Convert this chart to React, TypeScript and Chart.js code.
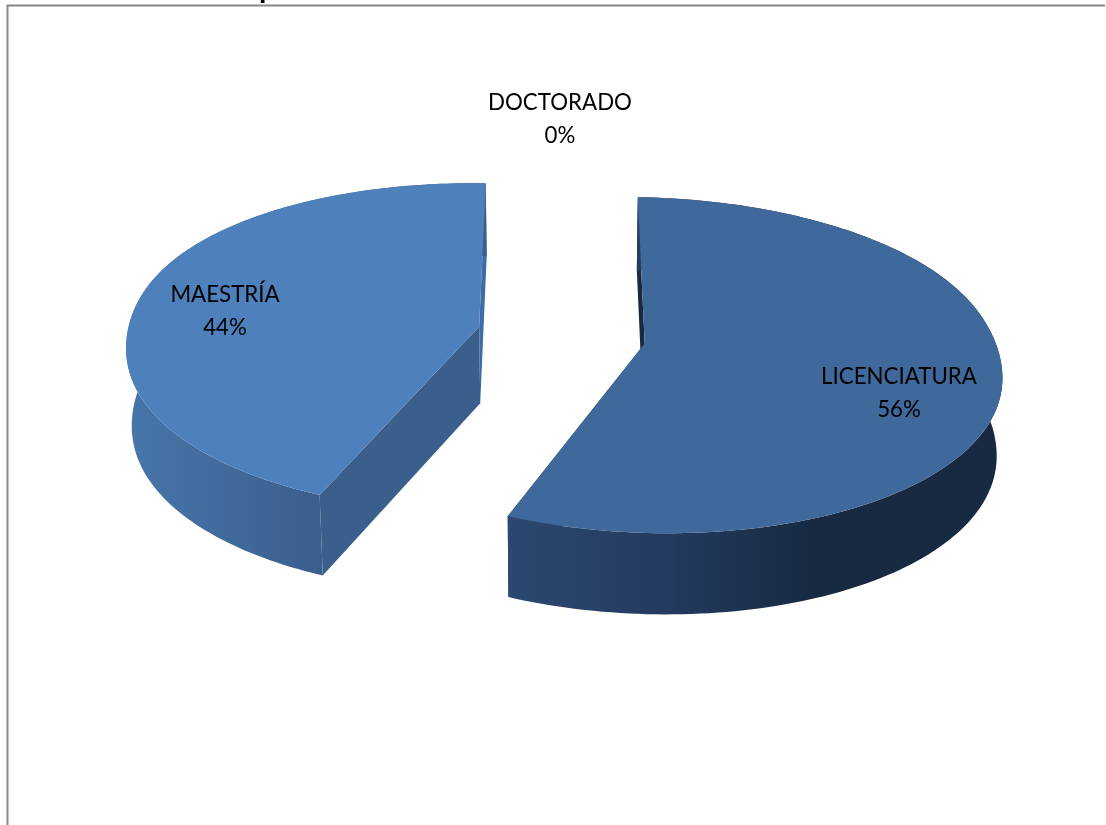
import React, { useEffect, useRef } from "react";
import { Chart, registerables } from "chart.js";

Chart.register(...registerables);

const categories = ["LICENCIATURA", "MAESTRÍA", "DOCTORADO"];
const shares = [56, 44, 0];
const explodeOffsets = [99, 99, 0];

const topColors = ["#3F689B", "#4E80BC", "#4F81BD"];
const sideGradients = [
  [["#2C4870", 0], ["#243A5E", 0.33], ["#172A42", 0.62], ["#172A42", 1]],
  [["#4776AA", 0], ["#3B5F8D", 1]],
  [["#3B5F8D", 0], ["#3B5F8D", 1]],
];
const startWallColors = ["#182A42", "#3B5F8D", "#3B5F8D"];
const endWallColors = ["#243A5E", "#3D6DA6", "#3D6DA6"];

// Centre of each two-line label, in canvas pixels.
const labelCentres = [
  [899, 393],
  [225, 311],
  [560, 119],
];

// Tilted-disc projection of the pie plane.
const VIEW = {
  cx: 561.5,
  cy: 335,
  rx: 351,
  ry: 163.3,
  tilt: 0.128,
  spreadMid: 0.9,
  spreadRange: 0.2,
  roll: 5,
  shrink: 0.987,
};

function project(u: number, v: number, lower: boolean): [number, number] {
  const s = 1 / (1 - VIEW.tilt * v);
  // The horizontal spread eases from the back of the disc to the front without a corner.
  const spread = VIEW.spreadMid + VIEW.spreadRange * Math.tanh(v * 3);
  let x = VIEW.cx + VIEW.rx * u * Math.pow(s, spread);
  let y = VIEW.cy + VIEW.ry * v * s + VIEW.roll * u;
  if (lower) {
    x = VIEW.cx + (x - VIEW.cx) * VIEW.shrink;
    y += 77 + 4 * v;
  }
  return [x, y];
}

function tracePath(ctx: CanvasRenderingContext2D, pts: [number, number][]) {
  ctx.beginPath();
  pts.forEach(([x, y], i) => (i ? ctx.lineTo(x, y) : ctx.moveTo(x, y)));
  ctx.closePath();
}

const pie3d = {
  id: "pie3d",
  beforeDraw(chart: Chart) {
    const ctx = chart.ctx;
    ctx.save();
    // Chart-area frame and the descender of the clipped heading above it.
    ctx.strokeStyle = "#888888";
    ctx.lineWidth = 2;
    ctx.beginPath();
    ctx.moveTo(7.5, 825);
    ctx.lineTo(7.5, 5.5);
    ctx.lineTo(1105, 5.5);
    ctx.stroke();
    ctx.fillStyle = "#000000";
    ctx.font = "bold 30px Lato";
    ctx.textAlign = "left";
    ctx.textBaseline = "alphabetic";
    ctx.save();
    ctx.beginPath();
    ctx.rect(0, 0, 400, 5);
    ctx.clip();
    ctx.fillText("p", 259, -2);
    ctx.restore();
    ctx.restore();
  },
  beforeDatasetsDraw(chart: Chart) {
    const ctx = chart.ctx;
    const arcs = chart.getDatasetMeta(0).data as any[];
    ctx.save();
    arcs.forEach((arc, i) => {
      if (arc.circumference <= 0) return;
      const mid = (arc.startAngle + arc.endAngle) / 2;
      const off = arc.options.offset / 412.5;
      const ox = Math.cos(mid) * off;
      const oy = Math.sin(mid) * off;
      const steps = 160;
      const top: [number, number][] = [];
      const low: [number, number][] = [];
      for (let k = 0; k <= steps; k++) {
        const a = arc.startAngle + (arc.endAngle - arc.startAngle) * (k / steps);
        const u = ox + Math.cos(a);
        const v = oy + Math.sin(a);
        top.push(project(u, v, false));
        low.push(project(u, v, true));
      }
      const apexTop = project(ox, oy, false);
      const apexLow = project(ox, oy, true);

      // Radial walls of the slice.
      ctx.fillStyle = startWallColors[i];
      tracePath(ctx, [top[0], apexTop, apexLow, low[0]]);
      ctx.fill();
      ctx.fillStyle = endWallColors[i];
      tracePath(ctx, [top[steps], apexTop, apexLow, low[steps]]);
      ctx.fill();

      // Rim, shaded from left to right over its visible width.
      const xs = top.filter(([, y], k) => Math.sin(arc.startAngle + (arc.endAngle - arc.startAngle) * (k / steps)) > -0.2).map(([x]) => x);
      const grad = ctx.createLinearGradient(Math.min(...xs), 0, Math.max(...xs), 0);
      sideGradients[i].forEach(([c, p]) => grad.addColorStop(p as number, c as string));
      ctx.fillStyle = grad;
      tracePath(ctx, [...top, ...low.slice().reverse()]);
      ctx.fill();

      // Upper face.
      ctx.fillStyle = arc.options.backgroundColor;
      tracePath(ctx, [apexTop, ...top]);
      ctx.fill();
    });

    ctx.fillStyle = "#000000";
    ctx.font = "22.3px Lato";
    ctx.textAlign = "center";
    ctx.textBaseline = "middle";
    const total = shares.reduce((a, b) => a + b, 0);
    categories.forEach((name, i) => {
      const [x, y] = labelCentres[i];
      ctx.fillText(name, x, y - 16.5);
      ctx.fillText(`${Math.round((shares[i] / total) * 100)}%`, x, y + 16.5);
    });
    ctx.restore();
    return false;
  },
};

export default function App() {
  const ref = useRef<HTMLCanvasElement>(null);
  useEffect(() => {
    document.body.style.margin = "0";
    document.body.style.background = "#ffffff";
    const chart = new Chart(ref.current!, {
      type: "pie",
      data: {
        labels: categories,
        datasets: [{ data: shares, backgroundColor: topColors, offset: explodeOffsets, borderWidth: 0 }],
      },
      options: {
        animation: false,
        responsive: false,
        devicePixelRatio: 1,
        plugins: { legend: { display: false }, tooltip: { enabled: false } },
      },
      plugins: [pie3d],
    });
    return () => chart.destroy();
  }, []);
  return <canvas ref={ref} width={1106} height={825} style={{ display: "block" }} />;
}
